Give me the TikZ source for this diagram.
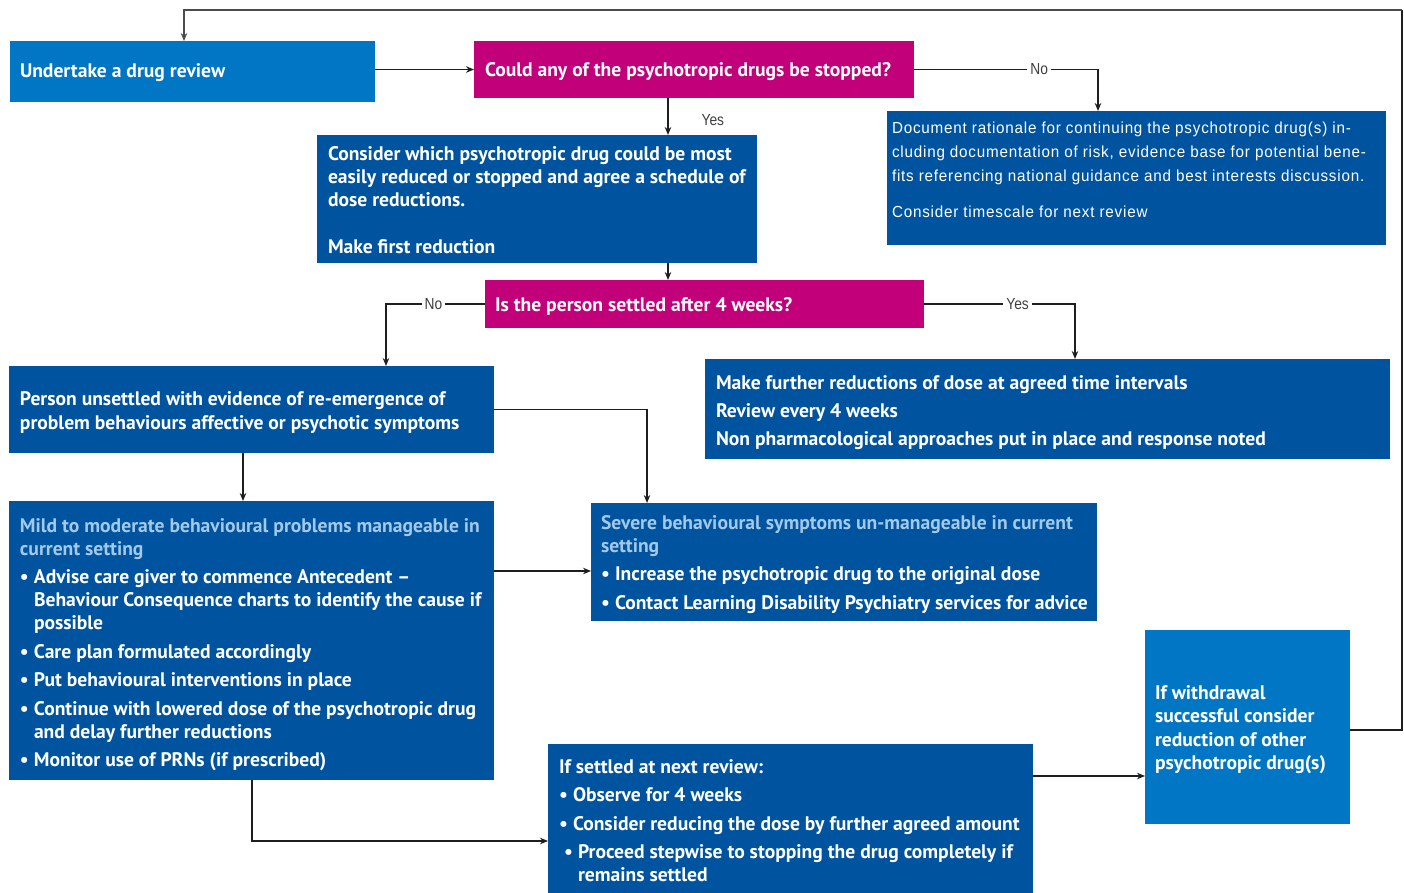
\documentclass[tikz,border=0pt]{standalone}
\usepackage{fontspec}
\setmainfont{PT Sans}
\newfontfamily\narrowfont[FakeStretch=0.86]{Liberation Sans}
\newfontfamily\docfont[FakeStretch=0.95,LetterSpace=5]{Liberation Sans}
\usetikzlibrary{arrows.meta,calc}
\definecolor{lblue}{RGB}{0,118,196}
\definecolor{dblue}{RGB}{0,84,159}
\definecolor{mag}{RGB}{194,0,122}
\definecolor{ltxt}{RGB}{164,200,232}
\definecolor{lnc}{RGB}{30,30,30}
% width, height, first baseline, left pad, setup, text
\newcommand{\bxt}[6]{%
\begin{minipage}[c][#2pt][t]{#1pt}%
\setlength{\leftskip}{#4pt}\setlength{\rightskip}{0pt plus 1fil}\setlength{\parindent}{0pt}%
#5\rule{0pt}{#3pt}#6\end{minipage}}
\newcommand{\bul}[1]{\par\hangindent=14pt\hangafter=1\makebox[14pt][l]{•}#1}
\newcommand{\mainf}{\bfseries\fontsize{19.6}{23}\selectfont}
\begin{document}
\begin{tikzpicture}[x=1pt,y=-1pt,
  box/.style={anchor=north west, inner sep=0pt, outer sep=0pt, text=white},
  arr/.style={draw=lnc, line width=1.3pt, -{Stealth[length=8pt,width=6.5pt]}},
  lbl/.style={fill=white, inner sep=3pt, text=black!75, font=\narrowfont\fontsize{16}{16}\selectfont}]
\useasboundingbox[fill=white] (0,0) rectangle (1404,893);

\node[box, fill=lblue] (dr) at (10,41) {\bxt{365}{61}{37}{10}{\mainf}{Undertake a drug review}};
\node[box, fill=mag] (q1) at (474,41) {\bxt{440}{57}{36}{11}{\mainf}{Could any of the psychotropic drugs be stopped?}};
\node[box, fill=dblue] (c3) at (317,135) {\bxt{440}{128}{26}{11}{\mainf}{Consider which psychotropic drug could be most\\ easily reduced or stopped and agree a schedule of\\ dose reductions.\\ \mbox{}\\ Make first reduction}};
\node[box, fill=dblue] (doc) at (887,111) {\bxt{499}{134}{23}{5}{\docfont\fontsize{16}{24}\selectfont\setlength{\parskip}{12pt}}{Document rationale for continuing the psychotropic drug(s) in-\\ cluding documentation of risk, evidence base for potential bene-\\ fits referencing national guidance and best interests discussion.\par Consider timescale for next review}};
\node[box, fill=mag] (q2) at (485,280) {\bxt{439}{48}{31}{10}{\mainf}{Is the person settled after 4 weeks?}};
\node[box, fill=dblue] (uns) at (9,366) {\bxt{485}{87}{39}{11}{\bfseries\fontsize{19.6}{24}\selectfont}{Person unsettled with evidence of re-emergence of\\ problem behaviours affective or psychotic symptoms}};
\node[box, fill=dblue] (fr) at (705,359) {\bxt{685}{100}{30}{11}{\bfseries\fontsize{19.6}{28}\selectfont}{Make further reductions of dose at agreed time intervals\\ Review every 4 weeks\\ Non pharmacological approaches put in place and response noted}};
\node[box, fill=dblue] (mild) at (9,501) {\bxt{485}{279}{31}{11}{\mainf\setlength{\parskip}{5.5pt}}{{\color{ltxt}Mild to moderate behavioural problems manageable in\\ current setting}
\bul{Advise care giver to commence Antecedent –\\ Behaviour Consequence charts to identify the cause if\\ possible}
\bul{Care plan formulated accordingly}
\bul{Put behavioural interventions in place}
\bul{Continue with lowered dose of the psychotropic drug\\ and delay further reductions}
\bul{Monitor use of PRNs (if prescribed)}}};
\node[box, fill=dblue] (sev) at (591,503) {\bxt{506}{118}{26}{10}{\mainf\setlength{\parskip}{5.5pt}}{{\color{ltxt}Severe behavioural symptoms un-manageable in current\\ setting}
\bul{Increase the psychotropic drug to the original dose}
\bul{Contact Learning Disability Psychiatry services for advice}}};
\node[box, fill=dblue] (set) at (548,744) {\bxt{485}{149}{29}{11}{\mainf\setlength{\parskip}{5.5pt}}{If settled at next review:
\bul{Observe for 4 weeks}
\bul{Consider reducing the dose by further agreed amount}
\par\hangindent=19pt\hangafter=1\hspace*{5pt}\makebox[14pt][l]{•}Proceed stepwise to stopping the drug completely if\\ remains settled}};
\node[box, fill=lblue] (wd) at (1145,630) {\bxt{205}{194}{69}{10}{\bfseries\fontsize{19.6}{23.5}\selectfont}{If withdrawal\\ successful consider\\ reduction of other\\ psychotropic drug(s)}};

\coordinate (rt) at (1402,10);
\coordinate (lt) at (184,10);

\draw[arr] (dr.east |- q1.west) -- (q1.west);
\draw[arr] ([xshift=194pt]q1.south west) coordinate (a1) -- (a1 |- c3.north)
  node[lbl, fill=none, pos=0.6, anchor=west, xshift=30pt] {Yes};
\draw[arr] (q1.east) -| ([xshift=211pt]doc.north west) node[lbl, pos=0.34] {No};
\draw[arr] ([xshift=351pt]c3.south west) coordinate (a2) -- (a2 |- q2.north);
\draw[arr] (q2.west) -| ([xshift=377pt]uns.north west) node[lbl, pos=0.26] {No};
\draw[arr] (q2.east) -| ([xshift=370pt]fr.north west) node[lbl, pos=0.31] {Yes};
\draw[arr] ([xshift=234pt]uns.south west) coordinate (a3) -- (a3 |- mild.north);
\draw[arr] (uns.east) -| ([xshift=56pt]sev.north west);
\draw[arr] ([yshift=-70pt]mild.north east) coordinate (a4) -- (a4 -| sev.west);
\draw[arr] ([xshift=243pt]mild.south west) |- ([yshift=-97pt]set.north west);
\draw[arr] ([yshift=-32pt]set.north east) coordinate (a5) -- (a5 -| wd.west);
\draw[draw=lnc, line width=2.4pt] ([yshift=-100pt]wd.north east) -| (rt);
\draw[arr, draw=black!70] (rt) -- (lt) -- (lt |- dr.north);
\end{tikzpicture}
\end{document}
